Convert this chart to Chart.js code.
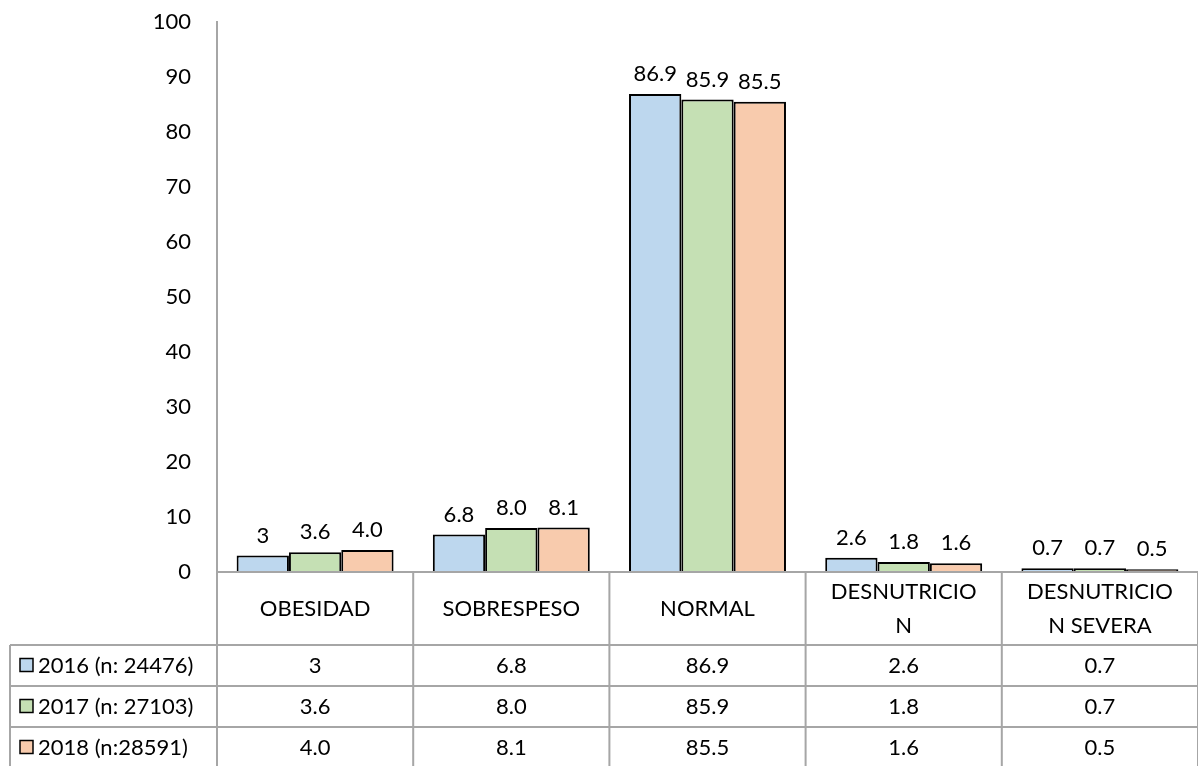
<!DOCTYPE html>
<html>
<head>
<meta charset="utf-8">
<script src="https://cdn.jsdelivr.net/npm/chart.js@4"></script>
<style>
  html, body { margin: 0; padding: 0; background: #fff; }
  #wrap { width: 1198px; height: 766px; }
</style>
</head>
<body>
<div id="wrap"><canvas id="grafica"></canvas></div>
<script>
// datos
const categorias = ['OBESIDAD', 'SOBRESPESO', 'NORMAL', ['DESNUTRICIO', 'N'], ['DESNUTRICIO', 'N SEVERA']];
const series = ['2016 (n: 24476)', '2017 (n: 27103)', '2018 (n:28591)'];
const valores2016 = [3, 6.8, 86.9, 2.6, 0.7];
const valores2017 = [3.6, 8.0, 85.9, 1.8, 0.7];
const valores2018 = [4.0, 8.1, 85.5, 1.6, 0.5];
// como se escriben en la etiqueta y en la tabla
const textos2016 = ['3', '6.8', '86.9', '2.6', '0.7'];
const textos2017 = ['3.6', '8.0', '85.9', '1.8', '0.7'];
const textos2018 = ['4.0', '8.1', '85.5', '1.6', '0.5'];

const colores = ['#BDD7EE', '#C5E0B4', '#F8CBAD'];
const fuente = 'Lato, "Open Sans", sans-serif';
const gris = '#a6a6a6';

const textos = [textos2016, textos2017, textos2018];

// etiquetas encima de las barras
const etiquetas = {
    id: 'etiquetas',
    afterDatasetsDraw(chart) {
        const ctx = chart.ctx;
        ctx.save();
        ctx.font = '22px ' + fuente;
        ctx.fillStyle = '#000';
        ctx.textAlign = 'center';
        ctx.textBaseline = 'bottom';
        chart.data.datasets.forEach((ds, i) => {
            chart.getDatasetMeta(i).data.forEach((bar, j) => {
                ctx.fillText(textos[i][j], bar.x, bar.y - 9);
            });
        });
        ctx.restore();
    }
};

// la tabla de datos debajo del eje
const tabla = {
    id: 'tabla',
    afterDraw(chart) {
        const ctx = chart.ctx;
        const area = chart.chartArea;
        const x = chart.scales.x;
        const fin = chart.height;
        const altoCab = 73;
        const altoFila = 41;
        const izq = 10;
        const ancho = (area.right - area.left) / categorias.length;

        ctx.save();
        ctx.strokeStyle = gris;
        ctx.lineWidth = 2;

        // lineas horizontales
        ctx.beginPath();
        ctx.moveTo(area.left, area.bottom);
        ctx.lineTo(area.right, area.bottom);
        for (let f = 0; f < series.length; f++) {
            const y = area.bottom + altoCab + f * altoFila;
            ctx.moveTo(izq, y);
            ctx.lineTo(area.right, y);
        }
        // verticales
        for (let c = 0; c <= categorias.length; c++) {
            const xx = area.left + c * ancho;
            ctx.moveTo(xx, area.bottom);
            ctx.lineTo(xx, fin);
        }
        ctx.moveTo(izq, area.bottom + altoCab);
        ctx.lineTo(izq, fin);
        ctx.stroke();

        ctx.fillStyle = '#000';
        ctx.font = '22px ' + fuente;
        ctx.textAlign = 'center';
        ctx.textBaseline = 'middle';

        // cabecera
        categorias.forEach((cat, c) => {
            const cx = x.getPixelForValue(c);
            const cy = area.bottom + altoCab / 2;
            if (Array.isArray(cat)) {
                ctx.fillText(cat[0], cx, cy - 17);
                ctx.fillText(cat[1], cx, cy + 17);
            } else {
                ctx.fillText(cat, cx, cy);
            }
        });

        // filas
        series.forEach((nombre, f) => {
            const cy = area.bottom + altoCab + f * altoFila + altoFila / 2;
            ctx.textAlign = 'center';
            textos[f].forEach((t, c) => {
                ctx.fillText(t, x.getPixelForValue(c), cy);
            });
            // cuadrito de leyenda
            ctx.fillStyle = colores[f];
            ctx.fillRect(20, cy - 7, 13, 13);
            ctx.strokeStyle = '#000';
            ctx.lineWidth = 1.5;
            ctx.strokeRect(20, cy - 7, 13, 13);
            ctx.fillStyle = '#000';
            ctx.textAlign = 'left';
            ctx.fillText(nombre, 38, cy);
        });
        ctx.restore();
    }
};

const data = {
    labels: categorias,
    datasets: [
        { label: series[0], data: valores2016, backgroundColor: colores[0] },
        { label: series[1], data: valores2017, backgroundColor: colores[1] },
        { label: series[2], data: valores2018, backgroundColor: colores[2] }
    ]
};

const config = {
    type: 'bar',
    data: data,
    options: {
        responsive: true,
        maintainAspectRatio: false,
        animation: false,
        devicePixelRatio: 1,
        datasets: {
            bar: {
                borderColor: '#000',
                borderWidth: 2,
                categoryPercentage: 0.8,
                barPercentage: 1.0
            }
        },
        layout: { padding: { top: 22, bottom: 194, left: 0, right: 0 } },
        plugins: {
            legend: { display: false },
            tooltip: { enabled: false }
        },
        scales: {
            x: { display: false },
            y: {
                min: 0,
                max: 100,
                ticks: {
                    stepSize: 10,
                    color: '#000',
                    padding: 26,
                    font: { family: fuente, size: 22 }
                },
                grid: { display: false, drawTicks: false },
                border: { display: true, color: gris, width: 2 },
                afterFit(scale) {
                    scale.width = 217;
                    scale.paddingTop = 0;
                    scale.paddingBottom = 0;
                }
            }
        }
    },
    plugins: [etiquetas, tabla]
};

new Chart(document.getElementById('grafica'), config);
</script>
</body>
</html>
